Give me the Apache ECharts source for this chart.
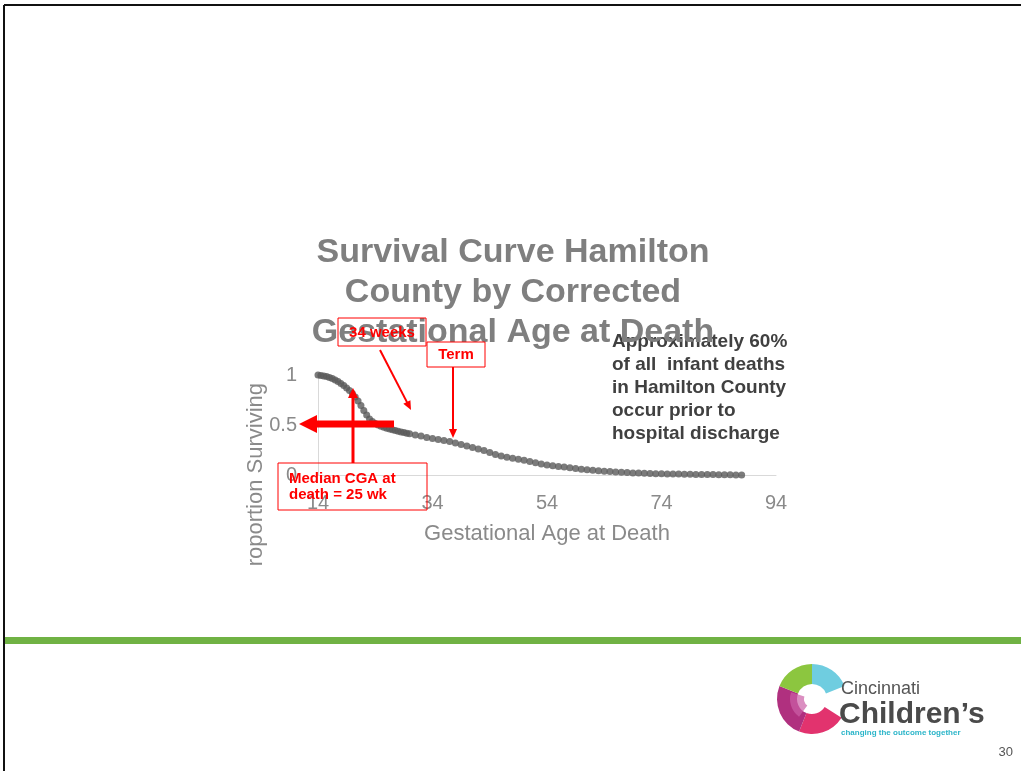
<!DOCTYPE html>
<html>
<head>
<meta charset="utf-8">
<script src="https://cdn.jsdelivr.net/npm/echarts@6/dist/echarts.min.js"></script>
<style>
  html, body { margin: 0; padding: 0; background: #fff; }
  #main { width: 1021px; height: 771px; }
</style>
</head>
<body>
<div id="main"></div>
<script>
// gestational age (weeks) and proportion still surviving
const weeks = [
  14, 14.5, 15, 15.5, 16, 16.5, 17, 17.5, 18, 18.5, 19, 19.5, 20, 20.5, 21, 21.5,
  22, 22.5, 23, 23.5, 24, 24.5, 25, 25.5, 26, 26.5, 27, 27.5, 28, 28.5, 29, 29.5, 30,
  31, 32, 33, 34, 35, 36, 37, 38, 39, 40, 41, 42, 43, 44, 45, 46, 47, 48, 49, 50,
  51, 52, 53, 54, 55, 56, 57, 58, 59, 60, 61, 62, 63, 64, 65, 66, 67, 68, 69, 70,
  71, 72, 73, 74, 75, 76, 77, 78, 79, 80, 81, 82, 83, 84, 85, 86, 87, 88
];
const surviving = [
  1.000, 0.995, 0.990, 0.985, 0.975, 0.965, 0.950, 0.935, 0.915, 0.895, 0.870, 0.845, 0.815, 0.780, 0.740, 0.695,
  0.645, 0.600, 0.560, 0.535, 0.515, 0.500, 0.488, 0.478, 0.468, 0.460, 0.452, 0.444, 0.437, 0.430, 0.424, 0.418, 0.412,
  0.400, 0.390, 0.375, 0.365, 0.355, 0.345, 0.335, 0.320, 0.305, 0.290, 0.275, 0.260, 0.245, 0.225, 0.205, 0.190, 0.178, 0.168, 0.158, 0.147,
  0.135, 0.122, 0.110, 0.100, 0.092, 0.086, 0.080, 0.072, 0.065, 0.058, 0.052, 0.047, 0.042, 0.038, 0.034, 0.030, 0.027, 0.024, 0.021, 0.019,
  0.017, 0.015, 0.013, 0.012, 0.011, 0.010, 0.009, 0.008, 0.007, 0.006, 0.005, 0.005, 0.004, 0.003, 0.003, 0.002, 0.001, 0.000
];
const xTicks = [14, 34, 54, 74, 94];
const yTicks = [0, 0.5, 1];

const titleLines = ['Survival Curve Hamilton', 'County by Corrected', 'Gestational Age at Death'];
const noteLines = ['Approximately 60%', 'of all  infant deaths', 'in Hamilton County', 'occur prior to', 'hospital discharge'];

const myChart = echarts.init(document.getElementById('main'));

const FONT = '"Liberation Sans", Arial, sans-serif';
const RED = '#ff0000';

// arrow head as polygon: tip point, direction, length, half width
function arrowHead(tx, ty, dx, dy, len, half) {
  const n = Math.sqrt(dx * dx + dy * dy);
  const ux = dx / n, uy = dy / n;
  const bx = tx - ux * len, by = ty - uy * len;
  return {
    type: 'polygon', z: 20,
    shape: { points: [[tx, ty], [bx - uy * half, by + ux * half], [bx + uy * half, by - ux * half]] },
    style: { fill: RED }
  };
}
function arrow(x1, y1, x2, y2, w, len, half) {
  const n = Math.sqrt((x2 - x1) ** 2 + (y2 - y1) ** 2);
  const ex = x2 - (x2 - x1) / n * (len - 1), ey = y2 - (y2 - y1) / n * (len - 1);
  return [
    { type: 'line', z: 20, shape: { x1: x1, y1: y1, x2: ex, y2: ey }, style: { stroke: RED, lineWidth: w } },
    arrowHead(x2, y2, x2 - x1, y2 - y1, len, half)
  ];
}
function box(x, y, w, h) {
  return { type: 'rect', z: 20, shape: { x: x, y: y, width: w, height: h },
    style: { fill: 'none', stroke: RED, lineWidth: 1 } };
}
function redText(txt, x, y, align) {
  return { type: 'text', z: 21, x: x, y: y,
    style: { text: txt, fill: RED, font: 'bold 15px ' + FONT, align: align || 'center', verticalAlign: 'middle' } };
}

const graphics = [
  // slide frame
  { type: 'line', shape: { x1: 4, y1: 5, x2: 1021, y2: 5 }, style: { stroke: '#111', lineWidth: 2 } },
  { type: 'line', shape: { x1: 4, y1: 5, x2: 4, y2: 771 }, style: { stroke: '#111', lineWidth: 2 } },
  // green band
  { type: 'rect', shape: { x: 5, y: 637, width: 1016, height: 7 }, style: { fill: '#70b244' } },
  // y axis name, cut at the bottom like the slide
  { type: 'text', x: 256, y: 482, rotation: Math.PI / 2,
    style: { text: 'Proportion Surviving', fill: '#8a8a8a', font: '22px ' + FONT, align: 'center', verticalAlign: 'middle' } },
  { type: 'rect', z: 5, shape: { x: 238, y: 566, width: 36, height: 40 }, style: { fill: '#fff' } },
  // note on the right
  { type: 'text', left: 612, top: 330,
    style: { text: noteLines.join('\n'), fill: '#404040', font: 'bold 19px ' + FONT, lineHeight: 23 } },
  // red call-outs
  box(338, 318, 88, 28), redText('34 weeks', 382, 333),
  box(427, 342, 58, 25), redText('Term', 456, 355),
  box(278, 463, 149, 47), redText('Median CGA at', 289, 479, 'left'), redText('death = 25 wk', 289, 495, 'left'),
  ...arrow(380, 350, 411, 410, 2, 9, 4),
  ...arrow(453, 367, 453, 438, 2, 9, 4),
  ...arrow(353, 463, 353, 388, 3, 10, 5),
  ...arrow(394, 424, 299, 424, 7, 18, 9),
  // logo
  { type: 'sector', shape: { cx: 812, cy: 699, r: 35, r0: 15, startAngle: Math.PI * 0.18, endAngle: Math.PI * 0.62 }, style: { fill: '#e2336e' } },
  { type: 'sector', shape: { cx: 812, cy: 699, r: 35, r0: 15, startAngle: Math.PI * 0.62, endAngle: Math.PI * 1.12 }, style: { fill: '#b0307f' } },
  { type: 'sector', shape: { cx: 812, cy: 699, r: 35, r0: 15, startAngle: Math.PI * 1.12, endAngle: Math.PI * 1.5 }, style: { fill: '#8cc63f' } },
  { type: 'sector', shape: { cx: 812, cy: 699, r: 35, r0: 15, startAngle: Math.PI * 1.5, endAngle: Math.PI * 1.88 }, style: { fill: '#6fcde0' } },
  { type: 'sector', shape: { cx: 812, cy: 699, r: 22, r0: 8, startAngle: Math.PI * 0.7, endAngle: Math.PI * 1.1 }, style: { fill: '#cc5fa6', opacity: 0.7 } },
  { type: 'text', x: 841, y: 689, style: { text: 'Cincinnati', fill: '#555', font: '18px ' + FONT, verticalAlign: 'middle' } },
  { type: 'text', x: 839, y: 715, style: { text: 'Children\u2019s', fill: '#4a4a4a', font: 'bold 30px ' + FONT, verticalAlign: 'middle' } },
  { type: 'text', x: 841, y: 733, style: { text: 'changing the outcome together', fill: '#2bb5c9', font: 'bold 8px ' + FONT, verticalAlign: 'middle' } },
  { type: 'text', x: 1013, y: 752, style: { text: '30', fill: '#555', font: '13px ' + FONT, align: 'right', verticalAlign: 'middle' } }
];

myChart.setOption({
  backgroundColor: '#fff',
  animation: false,
  title: {
    text: titleLines.join('\n'),
    left: 508, top: 228, textAlign: 'center',
    textStyle: { color: '#7f7f7f', fontFamily: FONT, fontWeight: 'bold', fontSize: 34, lineHeight: 40 }
  },
  grid: { left: 318, top: 375, width: 458, height: 100, containLabel: false },
  xAxis: {
    type: 'value', min: 14, max: 94, interval: 20,
    name: 'Gestational Age at Death', nameLocation: 'middle', nameGap: 48,
    nameTextStyle: { color: '#8a8a8a', fontFamily: FONT, fontSize: 22 },
    axisLine: { lineStyle: { color: '#d9d9d9' } },
    axisTick: { show: false },
    splitLine: { show: false },
    axisLabel: { color: '#8a8a8a', fontFamily: FONT, fontSize: 20, margin: 18,
      formatter: v => xTicks.includes(v) ? String(v) : '' }
  },
  yAxis: {
    type: 'value', min: 0, max: 1, interval: 0.5,
    axisLine: { show: true, lineStyle: { color: '#d9d9d9' } },
    axisTick: { show: false },
    splitLine: { show: false },
    axisLabel: { color: '#8a8a8a', fontFamily: FONT, fontSize: 20, margin: 21,
      formatter: v => yTicks.includes(v) ? String(v) : '' }
  },
  series: [{
    type: 'scatter',
    symbolSize: 7,
    itemStyle: { color: '#5a5a5a' },
    data: weeks.map((w, i) => [w, surviving[i]]),
    z: 3
  }],
  graphic: graphics
});
</script>
</body>
</html>
